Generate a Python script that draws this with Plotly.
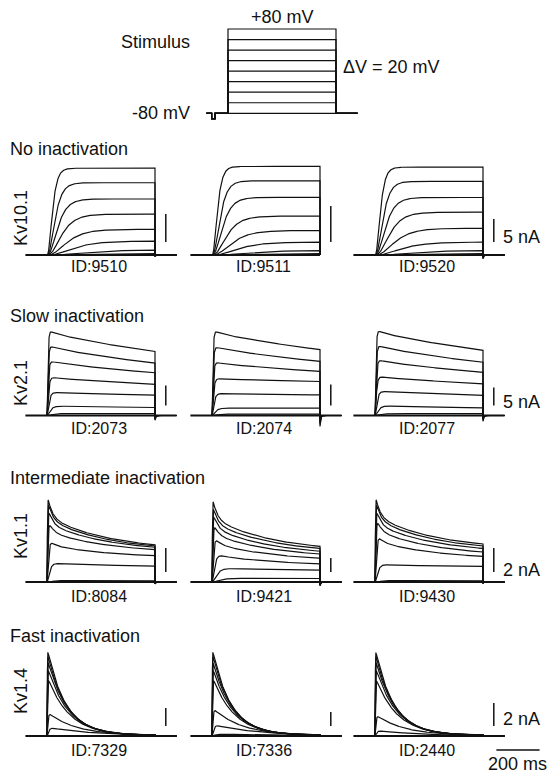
import numpy as np
import plotly.graph_objects as go

W, H = 554, 775
FONT = "Liberation Sans, Arial, Helvetica, sans-serif"
INK = "#111111"

# ---------------- voltage protocol ----------------
T_START, T_ON, T_OFF, T_END = -100, 0, 500, 600        # ms
PREPULSE_T = [-76, -60]                                # ms
V_HOLD, V_PREPULSE = -80, -90                          # mV
V_STEPS = [-80, -60, -40, -20, 0, 20, 40, 60, 80]      # mV
TIME_BAR_MS = 200

ROW_TITLES = ["No inactivation", "Slow inactivation",
              "Intermediate inactivation", "Fast inactivation"]
CHANNELS = ["Kv10.1", "Kv2.1", "Kv1.1", "Kv1.4"]
CELL_IDS = [["ID:9510", "ID:9511", "ID:9520"],
            ["ID:2073", "ID:2074", "ID:2077"],
            ["ID:8084", "ID:9421", "ID:9430"],
            ["ID:7329", "ID:7336", "ID:2440"]]
BAR_NA = [5, 5, 2, 2]                                  # current scale bars (nA)
PANEL_T_END = [[600, 500, 600], [600, 600, 600],
               [600, 600, 600], [600, 600, 600]]       # ms, end of each sweep
TAIL_NA = [[0.3, 0.0, 0.85], [1.2, 2.6, 1.6],
           [0.15, 0.55, 0.1], [0.0, 0.0, 0.0]]         # tail dip at step end (nA)
TAU_TAIL = 3.0                                         # ms

# ---- Kv10.1 : steady amplitudes (nA), +80 mV sweep first ----
KV10_AMP = [[15.5, 12.9, 10.0, 7.3, 4.6, 2.5, 0.9, 0.27],
            [12.3, 10.3, 8.0, 5.4, 3.4, 1.8, 0.63, 0.2],
            [19.1, 16.0, 12.5, 9.3, 5.8, 2.8, 1.0, 0.33]]
KV10_TAU_ACT = [16, 24, 32, 44, 60, 80, 110, 150]      # ms

# ---- Kv2.1 : current after activation and at step end (nA) ----
KV21_START = [[21.6, 17.8, 13.9, 9.8, 5.9, 2.45, 0.5],
              [20.5, 16.7, 12.9, 8.9, 5.3, 1.74, 0.36],
              [24.1, 19.9, 15.8, 11.1, 6.9, 2.8, 0.56]]
KV21_END = [[16.0, 13.1, 10.7, 7.8, 5.1, 2.0, 0.45],
            [15.7, 12.9, 10.5, 8.1, 4.9, 1.79, 0.33],
            [18.1, 14.8, 12.0, 8.8, 5.6, 2.1, 0.5]]
KV21_TAU_ACT = [3, 3.5, 4, 5, 7, 12, 20]               # ms

# ---- Kv1.1 : peak and end-of-step current (nA) ----
KV11_PEAK = [[7.4, 7.1, 6.5, 5.5, 3.9, 1.8, 0.13],
             [12.4, 11.5, 10.5, 9.2, 7.4, 5.0, 2.3, 0.6],
             [7.4, 7.1, 6.5, 5.8, 4.5, 1.6, 0.13]]
KV11_END = [[3.1, 3.0, 2.9, 2.7, 2.2, 1.33, 0.1],
            [5.1, 4.8, 4.4, 4.0, 3.4, 2.6, 1.7, 0.5],
            [3.17, 3.0, 2.8, 2.5, 2.14, 1.31, 0.1]]
KV11_TAU_ACT = [1, 1.5, 2, 3, 5, 10, 18, 30]           # ms

# ---- Kv1.4 : peak current (nA) and inactivation time constants ----
KV14_PEAK = [[9.8, 9.3, 8.7, 7.8, 6.7, 2.7, 1.0],
             [12.6, 12.0, 11.1, 10.0, 8.6, 4.1, 1.7, 0.3],
             [7.65, 7.3, 6.8, 6.1, 5.2, 1.9, 0.5]]
KV14_TAU_INACT = [85, 88, 92, 96, 100, 130, 200, 300]  # ms
KV14_END_RATIO = [0.012, 0.012, 0.012, 0.012, 0.015, 0.04, 0.1, 0.25]
KV14_TAU_ACT = [0.7, 0.8, 1.0, 1.2, 1.5, 3, 6, 12]     # ms

# ---------------- page geometry (px) ----------------
PX_PER_MS = 0.216
ONSET_X = [47, 212, 375]
STIM_ONSET_X = 228
BASELINE_Y = [255, 415.5, 582, 736]
GAIN = [[5.6, 7.2, 4.6], [4.0, 4.2, 3.6],
        [12.0, 7.0, 12.0], [9.0, 7.0, 11.5]]           # px per nA
BAR_LIFT = [13, 10, 10, 10]                            # px above baseline
BAR_T = 550                                            # ms
T_VIEW = (-110, 620)


def px_x(x):
    return x / W


def px_y(y):
    return 1 - y / H


def current(t, amp, tau_act, n_act, end_ratio, w_fast, tau_fast, tau_slow):
    """Activation (HH power) times a two-exponential inactivation."""
    act = (1 - np.exp(-t / tau_act)) ** n_act
    q = w_fast * np.exp(-T_OFF / tau_fast) + (1 - w_fast) * np.exp(-T_OFF / tau_slow)
    css = (end_ratio - q) / (1 - q)
    g = css + (1 - css) * (w_fast * np.exp(-t / tau_fast)
                           + (1 - w_fast) * np.exp(-t / tau_slow))
    return amp * act * g


def sweeps(row, col):
    """Kinetic parameters for every sweep of one cell."""
    out = []
    if row == 0:
        for i, a in enumerate(KV10_AMP[col]):
            out.append((a, KV10_TAU_ACT[i], 3, 1.0, 0.0, 10.0, 1e9))
    elif row == 1:
        for i, (a, e) in enumerate(zip(KV21_START[col], KV21_END[col])):
            out.append((a, KV21_TAU_ACT[i], 2, e / a, 0.06, 25.0, 900.0))
    elif row == 2:
        for i, (a, e) in enumerate(zip(KV11_PEAK[col], KV11_END[col])):
            out.append((a, KV11_TAU_ACT[i], 2, e / a, 0.4, 20.0, 280.0))
    else:
        for i, a in enumerate(KV14_PEAK[col]):
            out.append((a, KV14_TAU_ACT[i], 2, KV14_END_RATIO[i], 1.0,
                        KV14_TAU_INACT[i], 1.0))
    return out


t_step = np.unique(np.concatenate([np.linspace(0, 12, 121),
                                   np.linspace(12, 80, 137),
                                   np.linspace(80, T_OFF, 211)]))
t_after = T_OFF + np.concatenate([[1e-3], np.linspace(0.3, 30, 60)])

fig = go.Figure()
axes = {}
n_ax = [0]


def new_axes(x0, x1, y0, y1, xr, yr):
    n_ax[0] += 1
    k = n_ax[0]
    s = "" if k == 1 else str(k)
    axes["xaxis" + s] = dict(domain=[px_x(x0), px_x(x1)], range=list(xr),
                             visible=False, fixedrange=True, anchor="y" + s)
    axes["yaxis" + s] = dict(domain=[px_y(y1), px_y(y0)], range=list(yr),
                             visible=False, fixedrange=True, anchor="x" + s)
    return "x" + s, "y" + s


def line(xref, yref, x, y, width=1.2):
    fig.add_trace(go.Scatter(x=x, y=y, mode="lines", xaxis=xref, yaxis=yref,
                             line=dict(color=INK, width=width),
                             hoverinfo="skip", showlegend=False))


# ---------------- stimulus protocol ----------------
stim_top, stim_bot = 29.0, 113.3           # px of +80 and -80 mV
mv_px = (stim_bot - stim_top) / (V_STEPS[-1] - V_STEPS[0])
sy0, sy1 = 12, 125
sx, sy = new_axes(STIM_ONSET_X + T_VIEW[0] * PX_PER_MS,
                  STIM_ONSET_X + T_VIEW[1] * PX_PER_MS, sy0, sy1, T_VIEW,
                  (V_HOLD - (sy1 - stim_bot) / mv_px,
                   V_STEPS[-1] + (stim_top - sy0) / mv_px))
for v in V_STEPS:
    line(sx, sy,
         [T_START, PREPULSE_T[0], PREPULSE_T[0], PREPULSE_T[1], PREPULSE_T[1],
          T_ON, T_ON, T_OFF, T_OFF, T_END],
         [V_HOLD, V_HOLD, V_PREPULSE, V_PREPULSE, V_HOLD,
          V_HOLD, v, v, V_HOLD, V_HOLD], width=1.2)

texts = [
    ("+80 mV", 282, 17, "center"),
    ("Stimulus", 192, 42, "right"),
    ("\u0394V = 20 mV", 341, 67, "left"),
    ("-80 mV", 192, 113, "right"),
]
for txt, x, y, anc in texts:
    fig.add_annotation(text=txt, x=px_x(x), y=px_y(y), xref="paper", yref="paper",
                       xanchor=anc, yanchor="middle", showarrow=False,
                       font=dict(family=FONT, size=18, color=INK))

# ---------------- current families ----------------
TITLE_Y = [149.5, 316, 478, 636]
CHANNEL_Y = [218, 383, 536, 691]
ID_DY = [11, 12.5, 14.5, 14.5]
BAR_LABEL_DY = [18, 14, 12, 17]

for r in range(4):
    base = BASELINE_Y[r]
    top_px = base - 100
    bot_px = H if r == 3 else base + 22
    for c in range(3):
        k = GAIN[r][c]
        x_left = ONSET_X[c] + T_VIEW[0] * PX_PER_MS
        x_right = W if c == 2 else ONSET_X[c] + T_VIEW[1] * PX_PER_MS
        xr = (T_VIEW[0], (x_right - ONSET_X[c]) / PX_PER_MS)
        yr = (-(bot_px - base) / k, (base - top_px) / k)
        xa, ya = new_axes(x_left, x_right, top_px, bot_px, xr, yr)

        t_end = PANEL_T_END[r][c]
        params = sweeps(r, c)
        ends = [current(np.array([T_OFF]), *p)[0] for p in params]
        end_max = max(ends)
        for p, i_end in zip(params, ends):
            i_step = current(t_step, *p)
            if t_end > T_OFF:
                ta = np.concatenate([t_after, [t_end]])
                i_tail = -TAIL_NA[r][c] * (i_end / end_max) * np.exp(-(ta - T_OFF) / TAU_TAIL)
                x = np.concatenate([t_step, ta])
                y = np.concatenate([i_step, i_tail])
            else:
                x = np.concatenate([t_step, [T_OFF]])
                y = np.concatenate([i_step, [0.0]])
            line(xa, ya, x, y, width=1.2)
        # zero-current line
        line(xa, ya, [T_START, t_end], [0, 0], width=2.2)
        # current scale bar
        b0 = BAR_LIFT[r] / k
        line(xa, ya, [BAR_T, BAR_T], [b0, b0 + BAR_NA[r]], width=1.5)

        fig.add_annotation(text=CELL_IDS[r][c], x=px_x(ONSET_X[c] + 240 * PX_PER_MS),
                           y=px_y(base + ID_DY[r]), xref="paper", yref="paper",
                           xanchor="center", yanchor="middle", showarrow=False,
                           font=dict(family=FONT, size=16, color=INK))
        if c == 2:
            fig.add_annotation(text=f"{BAR_NA[r]} nA", x=px_x(501),
                               y=px_y(base - BAR_LABEL_DY[r]), xref="paper", yref="paper",
                               xanchor="left", yanchor="middle", showarrow=False,
                               font=dict(family=FONT, size=18, color=INK))
            if r == 3:
                t0 = 562
                yb = -(750 - base) / k
                line(xa, ya, [t0, t0 + TIME_BAR_MS], [yb, yb], width=1.3)
                fig.add_annotation(text=f"{TIME_BAR_MS} ms",
                                   x=px_x(ONSET_X[c] + (t0 + TIME_BAR_MS / 2) * PX_PER_MS),
                                   y=px_y(764), xref="paper", yref="paper",
                                   xanchor="center", yanchor="middle", showarrow=False,
                                   font=dict(family=FONT, size=18, color=INK))

    fig.add_annotation(text=ROW_TITLES[r], x=px_x(8), y=px_y(TITLE_Y[r]),
                       xref="paper", yref="paper", xanchor="left", yanchor="middle",
                       showarrow=False, font=dict(family=FONT, size=18, color=INK))
    fig.add_annotation(text=CHANNELS[r], x=px_x(21), y=px_y(CHANNEL_Y[r]),
                       xref="paper", yref="paper", xanchor="center", yanchor="middle",
                       textangle=-90, showarrow=False,
                       font=dict(family=FONT, size=18, color=INK))

fig.update_layout(width=W, height=H, margin=dict(l=0, r=0, t=0, b=0),
                  paper_bgcolor="white", plot_bgcolor="white",
                  showlegend=False, **axes)
fig.write_html("out.html", config={"displayModeBar": False})
